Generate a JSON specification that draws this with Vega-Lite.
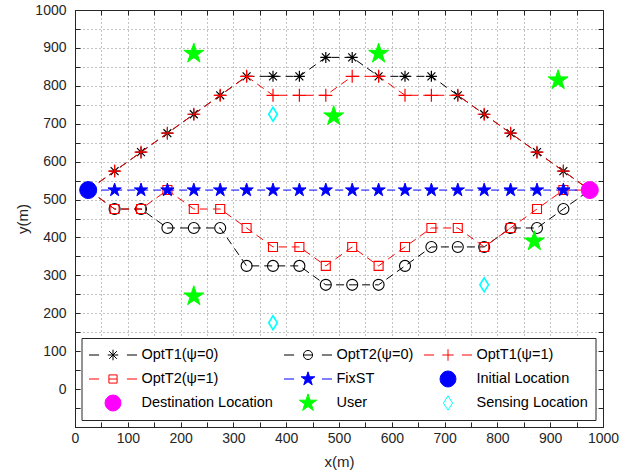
{
  "$schema": "https://vega.github.io/schema/vega-lite/v6.json",
  "width": 528,
  "height": 417,
  "autosize": {"type": "none"},
  "padding": {"left": 75, "top": 10, "right": 18, "bottom": 49},
  "background": "white",
  "datasets": {
    "traj": [
      {"s": "OptT1(ψ=0)", "x": 25, "y": 525}, {"s": "OptT1(ψ=0)", "x": 75, "y": 575}, {"s": "OptT1(ψ=0)", "x": 125, "y": 625}, {"s": "OptT1(ψ=0)", "x": 175, "y": 675}, {"s": "OptT1(ψ=0)", "x": 225, "y": 725}, {"s": "OptT1(ψ=0)", "x": 275, "y": 775}, {"s": "OptT1(ψ=0)", "x": 325, "y": 825}, {"s": "OptT1(ψ=0)", "x": 375, "y": 825}, {"s": "OptT1(ψ=0)", "x": 425, "y": 825}, {"s": "OptT1(ψ=0)", "x": 475, "y": 875}, {"s": "OptT1(ψ=0)", "x": 525, "y": 875}, {"s": "OptT1(ψ=0)", "x": 575, "y": 825}, {"s": "OptT1(ψ=0)", "x": 625, "y": 825}, {"s": "OptT1(ψ=0)", "x": 675, "y": 825}, {"s": "OptT1(ψ=0)", "x": 725, "y": 775}, {"s": "OptT1(ψ=0)", "x": 775, "y": 725}, {"s": "OptT1(ψ=0)", "x": 825, "y": 675}, {"s": "OptT1(ψ=0)", "x": 875, "y": 625}, {"s": "OptT1(ψ=0)", "x": 925, "y": 575}, {"s": "OptT1(ψ=0)", "x": 975, "y": 525},
      {"s": "OptT2(ψ=0)", "x": 25, "y": 525}, {"s": "OptT2(ψ=0)", "x": 75, "y": 475}, {"s": "OptT2(ψ=0)", "x": 125, "y": 475}, {"s": "OptT2(ψ=0)", "x": 175, "y": 425}, {"s": "OptT2(ψ=0)", "x": 225, "y": 425}, {"s": "OptT2(ψ=0)", "x": 275, "y": 425}, {"s": "OptT2(ψ=0)", "x": 325, "y": 325}, {"s": "OptT2(ψ=0)", "x": 375, "y": 325}, {"s": "OptT2(ψ=0)", "x": 425, "y": 325}, {"s": "OptT2(ψ=0)", "x": 475, "y": 275}, {"s": "OptT2(ψ=0)", "x": 525, "y": 275}, {"s": "OptT2(ψ=0)", "x": 575, "y": 275}, {"s": "OptT2(ψ=0)", "x": 625, "y": 325}, {"s": "OptT2(ψ=0)", "x": 675, "y": 375}, {"s": "OptT2(ψ=0)", "x": 725, "y": 375}, {"s": "OptT2(ψ=0)", "x": 775, "y": 375}, {"s": "OptT2(ψ=0)", "x": 825, "y": 425}, {"s": "OptT2(ψ=0)", "x": 875, "y": 425}, {"s": "OptT2(ψ=0)", "x": 925, "y": 475}, {"s": "OptT2(ψ=0)", "x": 975, "y": 525},
      {"s": "OptT1(ψ=1)", "x": 25, "y": 525}, {"s": "OptT1(ψ=1)", "x": 75, "y": 575}, {"s": "OptT1(ψ=1)", "x": 125, "y": 625}, {"s": "OptT1(ψ=1)", "x": 175, "y": 675}, {"s": "OptT1(ψ=1)", "x": 225, "y": 725}, {"s": "OptT1(ψ=1)", "x": 275, "y": 775}, {"s": "OptT1(ψ=1)", "x": 325, "y": 825}, {"s": "OptT1(ψ=1)", "x": 375, "y": 775}, {"s": "OptT1(ψ=1)", "x": 425, "y": 775}, {"s": "OptT1(ψ=1)", "x": 475, "y": 775}, {"s": "OptT1(ψ=1)", "x": 525, "y": 825}, {"s": "OptT1(ψ=1)", "x": 575, "y": 825}, {"s": "OptT1(ψ=1)", "x": 625, "y": 775}, {"s": "OptT1(ψ=1)", "x": 675, "y": 775}, {"s": "OptT1(ψ=1)", "x": 725, "y": 775}, {"s": "OptT1(ψ=1)", "x": 775, "y": 725}, {"s": "OptT1(ψ=1)", "x": 825, "y": 675}, {"s": "OptT1(ψ=1)", "x": 875, "y": 625}, {"s": "OptT1(ψ=1)", "x": 925, "y": 575}, {"s": "OptT1(ψ=1)", "x": 975, "y": 525},
      {"s": "OptT2(ψ=1)", "x": 25, "y": 525}, {"s": "OptT2(ψ=1)", "x": 75, "y": 475}, {"s": "OptT2(ψ=1)", "x": 125, "y": 475}, {"s": "OptT2(ψ=1)", "x": 175, "y": 525}, {"s": "OptT2(ψ=1)", "x": 225, "y": 475}, {"s": "OptT2(ψ=1)", "x": 275, "y": 475}, {"s": "OptT2(ψ=1)", "x": 325, "y": 425}, {"s": "OptT2(ψ=1)", "x": 375, "y": 375}, {"s": "OptT2(ψ=1)", "x": 425, "y": 375}, {"s": "OptT2(ψ=1)", "x": 475, "y": 325}, {"s": "OptT2(ψ=1)", "x": 525, "y": 375}, {"s": "OptT2(ψ=1)", "x": 575, "y": 325}, {"s": "OptT2(ψ=1)", "x": 625, "y": 375}, {"s": "OptT2(ψ=1)", "x": 675, "y": 425}, {"s": "OptT2(ψ=1)", "x": 725, "y": 425}, {"s": "OptT2(ψ=1)", "x": 775, "y": 375}, {"s": "OptT2(ψ=1)", "x": 825, "y": 425}, {"s": "OptT2(ψ=1)", "x": 875, "y": 475}, {"s": "OptT2(ψ=1)", "x": 925, "y": 525}, {"s": "OptT2(ψ=1)", "x": 975, "y": 525},
      {"s": "FixST", "x": 25, "y": 525}, {"s": "FixST", "x": 75, "y": 525}, {"s": "FixST", "x": 125, "y": 525}, {"s": "FixST", "x": 175, "y": 525}, {"s": "FixST", "x": 225, "y": 525}, {"s": "FixST", "x": 275, "y": 525}, {"s": "FixST", "x": 325, "y": 525}, {"s": "FixST", "x": 375, "y": 525}, {"s": "FixST", "x": 425, "y": 525}, {"s": "FixST", "x": 475, "y": 525}, {"s": "FixST", "x": 525, "y": 525}, {"s": "FixST", "x": 575, "y": 525}, {"s": "FixST", "x": 625, "y": 525}, {"s": "FixST", "x": 675, "y": 525}, {"s": "FixST", "x": 725, "y": 525}, {"s": "FixST", "x": 775, "y": 525}, {"s": "FixST", "x": 825, "y": 525}, {"s": "FixST", "x": 875, "y": 525}, {"s": "FixST", "x": 925, "y": 525}, {"s": "FixST", "x": 975, "y": 525}
    ],
    "pts": [
      {"s": "Initial Location", "x": 25, "y": 525},
      {"s": "Destination Location", "x": 975, "y": 525},
      {"s": "User", "x": 225, "y": 885}, {"s": "User", "x": 490, "y": 720}, {"s": "User", "x": 575, "y": 885}, {"s": "User", "x": 915, "y": 815}, {"s": "User", "x": 870, "y": 390}, {"s": "User", "x": 225, "y": 245},
      {"s": "Sensing Location", "x": 375, "y": 725}, {"s": "Sensing Location", "x": 375, "y": 175}, {"s": "Sensing Location", "x": 775, "y": 275}
    ]
  },
  "resolve": {"axis": {"x": "independent", "y": "independent"}},
  "layer": [
    {
      "data": {"name": "traj"},
      "transform": [{"filter": "datum.s === 'OptT1(ψ=0)'"}],
      "mark": {"type": "line", "color": "#000000", "strokeWidth": 1, "strokeDash": [8, 5]},
      "encoding": {
        "x": {"field": "x", "type": "quantitative", "scale": {"domain": [0, 1000], "nice": false, "zero": false},
          "axis": {"orient": "bottom", "values": [0,50,100,150,200,250,300,350,400,450,500,550,600,650,700,750,800,850,900,950,1000], "format": "d", "labelExpr": "datum.value % 100 === 0 ? datum.label : ''", "tickSize": -5, "labelPadding": 9, "grid": true, "title": "x(m)", "titlePadding": 9, "labelFlush": false, "labelOverlap": false}},
        "y": {"field": "y", "type": "quantitative", "scale": {"domain": [-100, 1000], "nice": false, "zero": false},
          "axis": {"orient": "left", "values": [-100,-50,0,50,100,150,200,250,300,350,400,450,500,550,600,650,700,750,800,850,900,950,1000], "format": "d", "labelExpr": "datum.value >= 0 && datum.value % 100 === 0 ? datum.label : ''", "tickSize": -5, "labelPadding": 14, "grid": true, "title": "y(m)", "titlePadding": 4, "labelFlush": false, "labelOverlap": false}}
      }
    },
    {
      "data": {"name": "traj"},
      "transform": [{"filter": "datum.s === 'OptT1(ψ=0)' && datum.x > 25 && datum.x < 975"}],
      "mark": {"type": "point", "shape": "M-1,0H1M0,-1V1M-0.72,-0.72L0.72,0.72M-0.72,0.72L0.72,-0.72", "size": 121, "filled": false, "stroke": "#000000", "strokeWidth": 1.2, "opacity": 1},
      "encoding": {
        "x": {"field": "x", "type": "quantitative", "axis": {"orient": "top", "values": [0,50,100,150,200,250,300,350,400,450,500,550,600,650,700,750,800,850,900,950,1000], "labels": false, "domain": false, "grid": false, "tickSize": -5, "title": null}},
        "y": {"field": "y", "type": "quantitative", "axis": {"orient": "right", "values": [-100,-50,0,50,100,150,200,250,300,350,400,450,500,550,600,650,700,750,800,850,900,950,1000], "labels": false, "domain": false, "grid": false, "tickSize": -5, "title": null}}
      }
    },
    {
      "data": {"name": "traj"},
      "transform": [{"filter": "datum.s === 'OptT2(ψ=0)'"}],
      "mark": {"type": "line", "color": "#000000", "strokeWidth": 1, "strokeDash": [8, 5]},
      "encoding": {"x": {"field": "x", "type": "quantitative", "axis": null}, "y": {"field": "y", "type": "quantitative", "axis": null}}
    },
    {
      "data": {"name": "traj"},
      "transform": [{"filter": "datum.s === 'OptT2(ψ=0)' && datum.x > 25 && datum.x < 975"}],
      "mark": {"type": "point", "shape": "circle", "size": 121, "filled": false, "stroke": "#000000", "strokeWidth": 1.1, "opacity": 1},
      "encoding": {"x": {"field": "x", "type": "quantitative", "axis": null}, "y": {"field": "y", "type": "quantitative", "axis": null}}
    },
    {
      "data": {"name": "traj"},
      "transform": [{"filter": "datum.s === 'OptT1(ψ=1)'"}],
      "mark": {"type": "line", "color": "#FF0000", "strokeWidth": 1, "strokeDash": [8, 5]},
      "encoding": {"x": {"field": "x", "type": "quantitative", "axis": null}, "y": {"field": "y", "type": "quantitative", "axis": null}}
    },
    {
      "data": {"name": "traj"},
      "transform": [{"filter": "datum.s === 'OptT1(ψ=1)' && datum.x > 25 && datum.x < 975"}],
      "mark": {"type": "point", "shape": "M-1,0H1M0,-1V1", "size": 169, "filled": false, "stroke": "#FF0000", "strokeWidth": 1.2, "opacity": 1},
      "encoding": {"x": {"field": "x", "type": "quantitative", "axis": null}, "y": {"field": "y", "type": "quantitative", "axis": null}}
    },
    {
      "data": {"name": "traj"},
      "transform": [{"filter": "datum.s === 'OptT2(ψ=1)'"}],
      "mark": {"type": "line", "color": "#FF0000", "strokeWidth": 1, "strokeDash": [8, 5]},
      "encoding": {"x": {"field": "x", "type": "quantitative", "axis": null}, "y": {"field": "y", "type": "quantitative", "axis": null}}
    },
    {
      "data": {"name": "traj"},
      "transform": [{"filter": "datum.s === 'OptT2(ψ=1)' && datum.x > 25 && datum.x < 975"}],
      "mark": {"type": "point", "shape": "square", "size": 81, "filled": false, "stroke": "#FF0000", "strokeWidth": 1.1, "opacity": 1},
      "encoding": {"x": {"field": "x", "type": "quantitative", "axis": null}, "y": {"field": "y", "type": "quantitative", "axis": null}}
    },
    {
      "data": {"name": "traj"},
      "transform": [{"filter": "datum.s === 'FixST'"}],
      "mark": {"type": "line", "color": "#0000FF", "strokeWidth": 1, "strokeDash": [8, 5]},
      "encoding": {"x": {"field": "x", "type": "quantitative", "axis": null}, "y": {"field": "y", "type": "quantitative", "axis": null}}
    },
    {
      "data": {"name": "traj"},
      "transform": [{"filter": "datum.s === 'FixST' && datum.x > 25 && datum.x < 975"}],
      "mark": {"type": "point", "shape": "M0,-1L0.2245,-0.309L0.951,-0.309L0.363,0.118L0.588,0.809L0,0.382L-0.588,0.809L-0.363,0.118L-0.951,-0.309L-0.2245,-0.309Z", "size": 196, "filled": true, "fill": "#0000FF", "stroke": "#0000FF", "strokeWidth": 1, "opacity": 1},
      "encoding": {"x": {"field": "x", "type": "quantitative", "axis": null}, "y": {"field": "y", "type": "quantitative", "axis": null}}
    },
    {
      "data": {"name": "pts"},
      "transform": [{"filter": "datum.s === 'Initial Location'"}],
      "mark": {"type": "point", "shape": "circle", "size": 289, "filled": true, "fill": "#0000FF", "stroke": "#0000FF", "strokeWidth": 1, "opacity": 1},
      "encoding": {"x": {"field": "x", "type": "quantitative", "axis": null}, "y": {"field": "y", "type": "quantitative", "axis": null}}
    },
    {
      "data": {"name": "pts"},
      "transform": [{"filter": "datum.s === 'Destination Location'"}],
      "mark": {"type": "point", "shape": "circle", "size": 289, "filled": true, "fill": "#FF00FF", "stroke": "#FF00FF", "strokeWidth": 1, "opacity": 1},
      "encoding": {"x": {"field": "x", "type": "quantitative", "axis": null}, "y": {"field": "y", "type": "quantitative", "axis": null}}
    },
    {
      "data": {"name": "pts"},
      "transform": [{"filter": "datum.s === 'User'"}],
      "mark": {"type": "point", "shape": "M0,-1L0.2245,-0.309L0.951,-0.309L0.363,0.118L0.588,0.809L0,0.382L-0.588,0.809L-0.363,0.118L-0.951,-0.309L-0.2245,-0.309Z", "size": 441, "filled": true, "fill": "#00FF00", "stroke": "#00FF00", "strokeWidth": 1, "opacity": 1},
      "encoding": {"x": {"field": "x", "type": "quantitative", "axis": null}, "y": {"field": "y", "type": "quantitative", "axis": null}}
    },
    {
      "data": {"name": "pts"},
      "transform": [{"filter": "datum.s === 'Sensing Location'"}],
      "mark": {"type": "point", "shape": "M0,-1L0.62,0L0,1L-0.62,0Z", "size": 196, "filled": false, "stroke": "#00FFFF", "strokeWidth": 1.6, "opacity": 1},
      "encoding": {"x": {"field": "x", "type": "quantitative", "axis": null}, "y": {"field": "y", "type": "quantitative", "axis": null}}
    },
    {
      "data": {"values": [{"s": "User"}]},
      "transform": [{"filter": "false"}],
      "mark": {"type": "point", "filled": false, "opacity": 1},
      "encoding": {
        "shape": {"field": "s", "type": "nominal", "legend": {"title": null},
          "scale": {"domain": ["OptT1(ψ=0)", "OptT2(ψ=0)", "OptT1(ψ=1)", "OptT2(ψ=1)", "FixST", "Initial Location", "Destination Location", "User", "Sensing Location"],
            "range": [
              "M-1,0H-0.58M0.58,0H1M-0.22,0H0.22M0,-0.22V0.22M-0.16,-0.16L0.16,0.16M-0.16,0.16L0.16,-0.16M-1,-0.4M1,0.4",
              "M-1,0H-0.58M0.58,0H1M0.19,0A0.19,0.19,0,1,1,-0.19,0A0.19,0.19,0,1,1,0.19,0ZM-0.19,0H0.19M-1,-0.4M1,0.4",
              "M-1,0H-0.58M0.58,0H1M-0.24,0H0.24M0,-0.24V0.24M-1,-0.4M1,0.4",
              "M-1,0H-0.58M0.58,0H1M-0.17,-0.17H0.17V0.17H-0.17ZM-0.17,0H0.17M-1,-0.4M1,0.4",
              "M-1,0H-0.58M0.58,0H1M0,-0.3L0.067,-0.093L0.285,-0.093L0.109,0.035L0.176,0.243L0,0.115L-0.176,0.243L-0.109,0.035L-0.285,-0.093L-0.067,-0.093ZM-1,-0.4M1,0.4",
              "M0.33,0A0.33,0.33,0,1,1,-0.33,0A0.33,0.33,0,1,1,0.33,0ZM-1,-0.4M1,0.4",
              "M0.33,0A0.33,0.33,0,1,1,-0.33,0A0.33,0.33,0,1,1,0.33,0ZM-1,-0.4M1,0.4",
              "M0,-0.38L0.0853,-0.1174L0.3614,-0.1174L0.1379,0.0448L0.2234,0.3074L0,0.1452L-0.2234,0.3074L-0.1379,0.0448L-0.3614,-0.1174L-0.0853,-0.1174ZM-1,-0.4M1,0.4",
              "M0,-0.3L0.19,0L0,0.3L-0.19,0ZM-1,-0.4M1,0.4"
            ]}},
        "stroke": {"field": "s", "type": "nominal", "legend": {"title": null},
          "scale": {"domain": ["OptT1(ψ=0)", "OptT2(ψ=0)", "OptT1(ψ=1)", "OptT2(ψ=1)", "FixST", "Initial Location", "Destination Location", "User", "Sensing Location"],
            "range": ["#000000", "#000000", "#FF0000", "#FF0000", "#0000FF", "#0000FF", "#FF00FF", "#00FF00", "#00FFFF"]}},
        "fill": {"field": "s", "type": "nominal", "legend": {"title": null},
          "scale": {"domain": ["OptT1(ψ=0)", "OptT2(ψ=0)", "OptT1(ψ=1)", "OptT2(ψ=1)", "FixST", "Initial Location", "Destination Location", "User", "Sensing Location"],
            "range": ["transparent", "transparent", "transparent", "transparent", "#0000FF", "#0000FF", "#FF00FF", "#00FF00", "transparent"]}}
      }
    }
  ],
  "config": {
    "view": {"stroke": "#262626", "strokeWidth": 1},
    "axis": {
      "labelFont": "Liberation Sans", "titleFont": "Liberation Sans",
      "labelFontSize": 14, "titleFontSize": 15, "titleFontWeight": "normal",
      "labelColor": "#262626", "titleColor": "#262626",
      "domainColor": "#262626", "tickColor": "#262626", "domainWidth": 1, "tickWidth": 1,
      "gridColor": "#262626", "gridDash": [1, 3], "gridOpacity": 0.55, "gridWidth": 1
    },
    "legend": {
      "orient": "none", "direction": "horizontal", "legendX": 6.5, "legendY": 328, "columns": 3,
      "symbolSize": 2304, "symbolStrokeWidth": 1, "clipHeight": 20,
      "labelFont": "Liberation Sans", "labelFontSize": 14.5, "labelColor": "#000000", "labelOffset": 4, "labelLimit": 300,
      "padding": 7, "rowPadding": 4, "columnPadding": 10,
      "strokeColor": "#262626", "fillColor": "#ffffff", "cornerRadius": 0
    }
  }
}
